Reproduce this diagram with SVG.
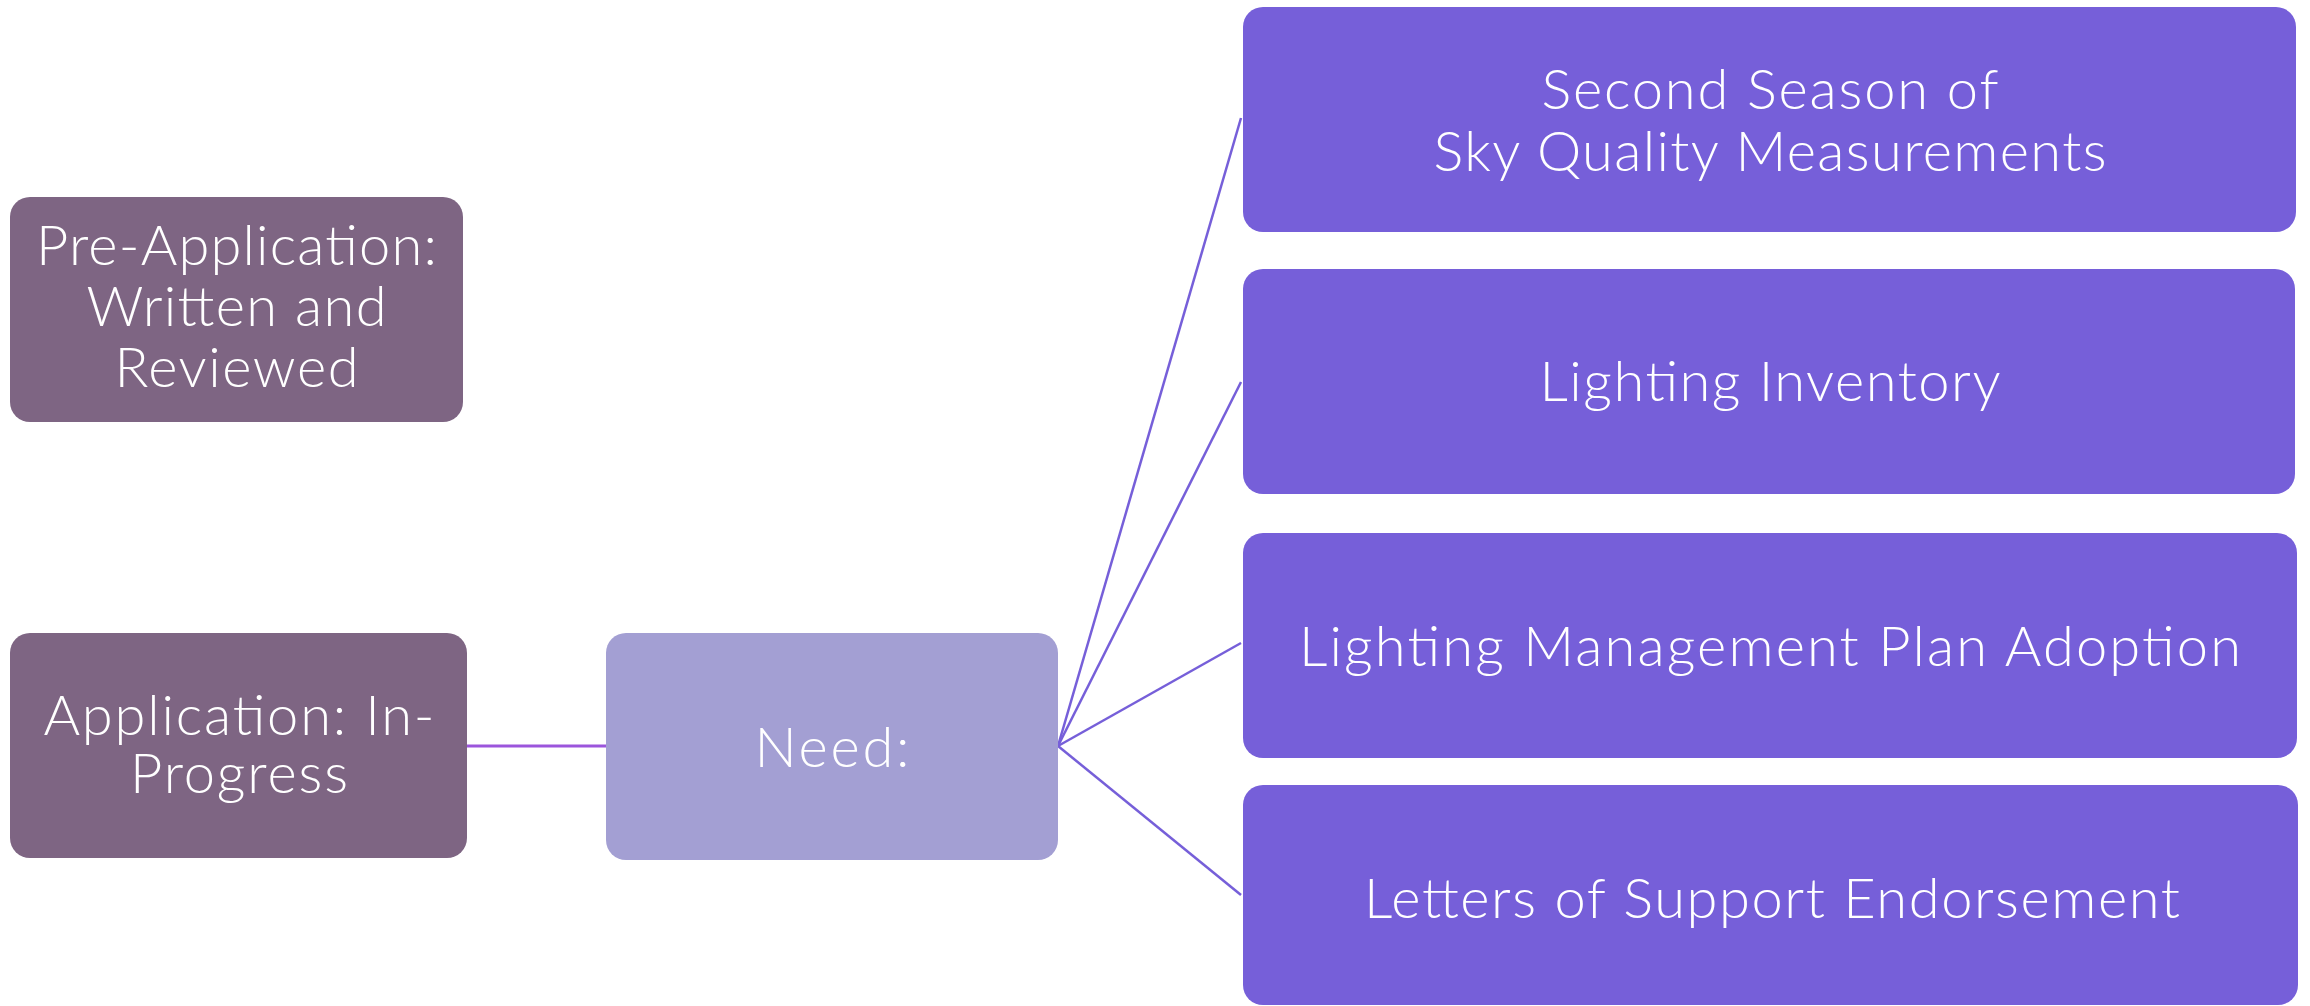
<svg xmlns="http://www.w3.org/2000/svg" width="2310" height="1006" viewBox="0 0 2310 1006">
<style>
.t{font-family:Lato,"Noto Sans","Liberation Sans",sans-serif;font-size:56px;font-weight:300;fill:#ffffff;text-anchor:middle}
.stage{fill:#7e6583}
.need{fill:#a39fd3}
.item{fill:#765fd9}
.conn{stroke:#765fd9;stroke-width:2.5;fill:none}
.conn2{stroke:#9b55dc;stroke-width:3;fill:none}
</style>
<rect width="2310" height="1006" fill="#ffffff"/>
<g id="connectors">
<line class="conn2" x1="467" y1="746" x2="606" y2="746"/>
<line class="conn" x1="1058" y1="746" x2="1241" y2="118"/>
<line class="conn" x1="1058" y1="746" x2="1241" y2="382"/>
<line class="conn" x1="1058" y1="746" x2="1241" y2="643"/>
<line class="conn" x1="1058" y1="746" x2="1241" y2="895"/>
</g>
<g id="pre-application">
<rect class="stage" x="10" y="197" width="453" height="225" rx="20"/>
<text class="t" x="236.5" y="265" textLength="401">Pre-Application:</text>
<text class="t" x="236.5" y="326" textLength="300">Written and</text>
<text class="t" x="236.5" y="387" textLength="244">Reviewed</text>
</g>
<g id="application">
<rect class="stage" x="10" y="633" width="457" height="225" rx="20"/>
<text class="t" x="239" y="735" textLength="391">Application: In-</text>
<text class="t" x="239" y="793" textLength="218">Progress</text>
</g>
<g id="need">
<rect class="need" x="606" y="633" width="452" height="227" rx="20"/>
<text class="t" x="832" y="767" textLength="155">Need:</text>
</g>
<g id="sky-quality">
<rect class="item" x="1243" y="7" width="1053" height="225" rx="20"/>
<text class="t" x="1770" y="109" textLength="457">Second Season of</text>
<text class="t" x="1770" y="171" textLength="673">Sky Quality Measurements</text>
</g>
<g id="lighting-inventory">
<rect class="item" x="1243" y="269" width="1052" height="225" rx="20"/>
<text class="t" x="1770" y="401" textLength="461">Lighting Inventory</text>
</g>
<g id="lighting-management">
<rect class="item" x="1243" y="533" width="1054" height="225" rx="20"/>
<text class="t" x="1770" y="666" textLength="942">Lighting Management Plan Adoption</text>
</g>
<g id="letters-of-support">
<rect class="item" x="1243" y="785" width="1055" height="220" rx="20"/>
<text class="t" x="1772" y="918" textLength="816">Letters of Support Endorsement</text>
</g>
</svg>
